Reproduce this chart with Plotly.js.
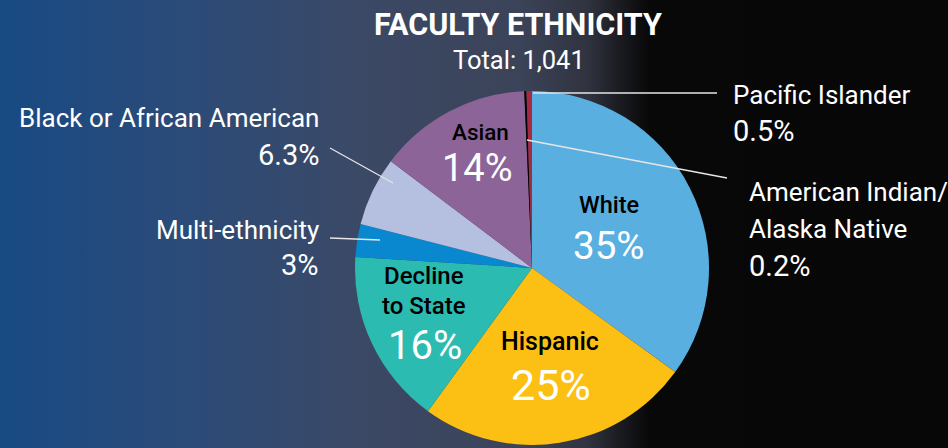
<!DOCTYPE html>
<html>
<head>
<meta charset="utf-8">
<script src="https://cdn.plot.ly/plotly-3.0.1.min.js"></script>
<style>
  html, body { margin:0; padding:0; width:948px; height:448px; overflow:hidden;
    background: linear-gradient(to right, #184a83 0%, #2a4b7a 18%, #3b4966 38%, #3b4358 55%, #30333f 62%, #1a1b20 65.5%, #080808 68.5%, #070707 100%); }
  #chart { width:948px; height:448px; }
</style>
</head>
<body>
<div id="chart"></div>
<script>
// ---- data ----
const categories = ['White', 'Hispanic', 'Decline to State', 'Multi-ethnicity',
  'Black or African American', 'Asian', 'American Indian/Alaska Native', 'Pacific Islander'];
const percents = [35, 25, 16, 3, 6.3, 14, 0.2, 0.5];
const pctLabels = ['35%', '25%', '16%', '3%', '6.3%', '14%', '0.2%', '0.5%'];
const nameLines = [['White'], ['Hispanic'], ['Decline', 'to State'], ['Multi-ethnicity'],
  ['Black or African American'], ['Asian'], ['American Indian/', 'Alaska Native'], ['Pacific Islander']];
const titleText = 'FACULTY ETHNICITY';
const subtitleText = 'Total: 1,041';

// ---- styles ----
const W = 948, H = 448;
const colors = ['#5aafe1', '#fcbf14', '#2cbbb0', '#0a88cf', '#b5c0e0', '#8c6498', '#000000', '#a62a42'];
const cx = 532, cy = 268, R = 177;
const FONT = 'Roboto, "Open Sans", sans-serif';

function px2paper(x, y) { return [x / W, 1 - y / H]; }

const annotations = [];
function addText(text, x, y, size, color, anchor, weight) {
  const p = px2paper(x, y);
  annotations.push({
    text: text, x: p[0], y: p[1], xref: 'paper', yref: 'paper', showarrow: false,
    xanchor: anchor, yanchor: 'middle',
    font: { family: FONT, size: size, color: color, weight: weight || 400 }
  });
}

// Title
addText('<b>' + titleText + '</b>', 518, 25, 30.5, '#ffffff', 'center', 700);
addText(subtitleText, 519, 60, 25.5, '#ffffff', 'center');

// Inside labels
const insideLayout = [
  { i: 0, names: [[609, 205]], pct: [608, 245], ns: 23.5, ps: 38.5 },
  { i: 1, names: [[550, 341]], pct: [551, 385], ns: 25, ps: 43 },
  { i: 2, names: [[424, 276], [424, 306]], pct: [425, 345], ns: 24, ps: 40 },
  { i: 5, names: [[480, 132]], pct: [478, 168], ns: 22.5, ps: 38 }
];
insideLayout.forEach(L => {
  nameLines[L.i].forEach((t, k) => addText(t, L.names[k][0], L.names[k][1], L.ns, '#000000', 'center', 500));
  addText(pctLabels[L.i], L.pct[0], L.pct[1], L.ps, '#ffffff', 'center');
});

// Outside labels
const outsideLayout = [
  { i: 7, x: 731, anchor: 'left', ys: [95, 131], line: [[533, 93], [717, 93]] },
  { i: 6, x: 747, anchor: 'left', ys: [192, 229, 266], line: [[527, 140], [727, 178]] },
  { i: 4, x: 321, anchor: 'right', ys: [118, 155], line: [[330, 148], [393, 183]] },
  { i: 3, x: 321, anchor: 'right', ys: [230, 265], line: [[330, 238], [380, 240]] }
];
const shapes = [];
outsideLayout.forEach(L => {
  const names = nameLines[L.i];
  names.forEach((t, k) => addText(t, L.x, L.ys[k], 26, '#ffffff', L.anchor));
  addText(pctLabels[L.i], L.x, L.ys[names.length], 29, '#ffffff', L.anchor);
  const a = px2paper(L.line[0][0], L.line[0][1]);
  const b = px2paper(L.line[1][0], L.line[1][1]);
  shapes.push({ type: 'line', xref: 'paper', yref: 'paper', x0: a[0], y0: a[1], x1: b[0], y1: b[1],
    line: { color: '#e6e6e6', width: 1.3 } });
});

const trace = {
  type: 'pie',
  labels: categories,
  values: percents,
  sort: false,
  direction: 'clockwise',
  rotation: 0,
  textinfo: 'none',
  hoverinfo: 'label+value',
  marker: { colors: colors, line: { width: 0 } },
  domain: { x: [(cx - R) / W, (cx + R) / W], y: [(H - cy - R) / H, (H - cy + R) / H] },
  showlegend: false
};

const layout = {
  width: W, height: H,
  margin: { l: 0, r: 0, t: 0, b: 0 },
  paper_bgcolor: 'rgba(0,0,0,0)',
  plot_bgcolor: 'rgba(0,0,0,0)',
  showlegend: false,
  annotations: annotations,
  shapes: shapes
};

Plotly.newPlot('chart', [trace], layout, { displayModeBar: false, staticPlot: true });
</script>
</body>
</html>
